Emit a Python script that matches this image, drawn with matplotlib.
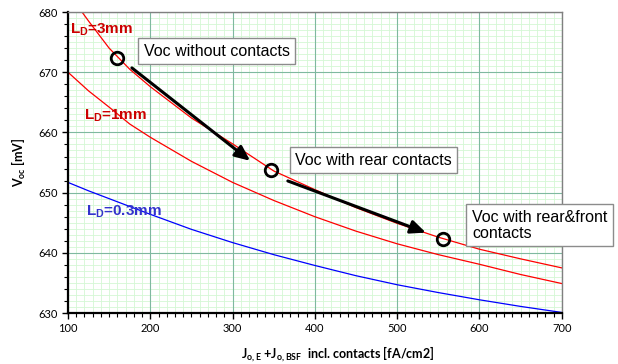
import numpy as np
import matplotlib
matplotlib.use("Agg")
import matplotlib.pyplot as plt
from matplotlib.ticker import MultipleLocator

plt.rcParams['mathtext.fontset'] = 'custom'
plt.rcParams['mathtext.bf'] = 'Liberation Sans:bold'
plt.rcParams['mathtext.sf'] = 'Lato:bold'
plt.rcParams['mathtext.rm'] = 'Liberation Sans'

# J0 (emitter + BSF, incl. contacts) in fA/cm2
j0 = [100, 125, 150, 175, 200, 250, 300, 350, 400, 450, 500, 550, 600, 650, 700]
voc_3mm = [683.2, 678.5, 674.0, 670.5, 667.6, 662.4, 658.1, 653.6, 650.5, 647.5,
           644.9, 642.6, 640.6, 639.0, 637.5]
voc_1mm = [670.0, 666.9, 664.2, 661.4, 659.2, 655.2, 651.7, 648.7, 646.0, 643.6,
           641.5, 639.7, 638.1, 636.4, 634.9]
voc_03mm = [651.7, 650.3, 649.0, 647.7, 646.4, 643.9, 641.7, 639.7, 637.9, 636.2,
            634.7, 633.4, 632.2, 631.1, 630.1]

# operating points on the L_D=3mm curve
pt_j = [160, 347, 556]
pt_voc = [672.4, 653.8, 642.3]
pt_text = ["Voc without contacts", "Voc with rear contacts", "Voc with rear&front\ncontacts"]

fig = plt.figure(figsize=(6.18, 3.64), dpi=100)
ax = fig.add_axes([0.110, 0.140, 0.799, 0.827])
ax.set_xlim(100, 700)
ax.set_ylim(630, 680)

# grid
ax.xaxis.set_major_locator(MultipleLocator(100))
ax.xaxis.set_minor_locator(MultipleLocator(10))
ax.yaxis.set_major_locator(MultipleLocator(10))
ax.yaxis.set_minor_locator(MultipleLocator(2))
for v in np.arange(631, 680, 1):
    ax.axhline(v, color='#d4f7d4', lw=0.6, zorder=0)
ax.grid(which='minor', axis='x', color='#d4f7d4', lw=0.6, zorder=0)
ax.grid(which='major', color='#7fb8a0', lw=0.8, zorder=0.5)

ax.plot(j0, voc_3mm, color='#ff0000', lw=0.9, zorder=2)
ax.plot(j0, voc_1mm, color='#ff0000', lw=0.9, zorder=2)
ax.plot(j0, voc_03mm, color='#0000ff', lw=0.9, zorder=2)

ax.plot(pt_j, pt_voc, 'o', ms=9, mfc='none', mec='black', mew=2, zorder=4)

# arrows between operating points
arrow_kw = dict(arrowstyle='-|>,head_length=0.9,head_width=0.4', color='black', lw=2.2)
ax.annotate('', xy=(324, 655.0), xytext=(175, 671.0), arrowprops=arrow_kw, zorder=3)
ax.annotate('', xy=(538, 643.2), xytext=(364, 652.1), arrowprops=arrow_kw, zorder=3)

box_kw = dict(boxstyle='square,pad=0.35', fc='white', ec='#8c8c8c', lw=1)
ax.text(192, 673.5, pt_text[0], fontsize=11.5, family='Liberation Sans',
        va='center', ha='left', bbox=box_kw, zorder=5)
ax.text(376, 655.4, pt_text[1], fontsize=11.5, family='Liberation Sans',
        va='center', ha='left', bbox=box_kw, zorder=5)
ax.text(591, 644.6, pt_text[2], fontsize=11.5, family='Liberation Sans',
        va='center', ha='left', bbox=box_kw, zorder=5, linespacing=1.1)

# curve labels
lab_kw = dict(fontsize=11, family='Liberation Sans', fontweight='bold', va='center', ha='left')
ax.text(102, 677.0, r'$\mathbf{L_D}$=3mm', color='#cc0000', **lab_kw)
ax.text(119, 662.7, r'$\mathbf{L_D}$=1mm', color='#cc0000', **lab_kw)
ax.text(122, 646.8, r'$\mathbf{L_D}$=0.3mm', color='#3333cc', **lab_kw)

# axes styling
for s in ['left', 'bottom']:
    ax.spines[s].set_color('black')
    ax.spines[s].set_linewidth(1.6)
for s in ['top', 'right']:
    ax.spines[s].set_color('#808080')
    ax.spines[s].set_linewidth(1.0)
ax.tick_params(which='major', direction='out', length=4, width=1, labelsize=8)
ax.tick_params(which='minor', direction='out', length=3, width=0.8)
for lab in ax.get_xticklabels() + ax.get_yticklabels():
    lab.set_family('Lato')

ax.set_ylabel(r'V$_{\mathsf{oc}}$ [mV]', family='Lato', fontweight='bold', fontsize=9)
ax.yaxis.set_label_coords(-0.08, 0.5)
ax.set_xlabel(r'J$_{\mathsf{o,E}}$ +J$_{\mathsf{o,BSF}}$  incl. contacts [fA/cm2]',
              family='Lato', fontweight='bold', fontsize=9)
ax.xaxis.set_label_coords(0.547, -0.105)

fig.savefig('out.png', dpi=100)
